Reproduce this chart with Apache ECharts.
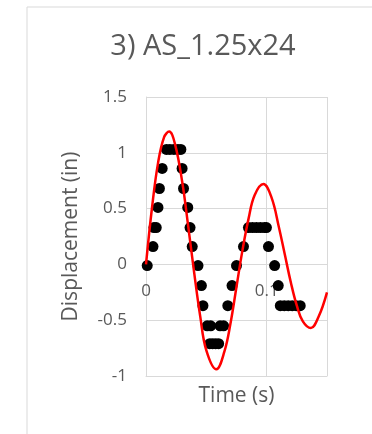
<!DOCTYPE html>
<html>
<head>
<meta charset="utf-8">
<script src="https://cdn.jsdelivr.net/npm/echarts@6/dist/echarts.min.js"></script>
<style>
html,body{margin:0;padding:0;background:#fff;}
#chart{width:372px;height:434px;}
</style>
</head>
<body>
<div id="chart"></div>
<script>
// Measured data (black dots): time (s) and displacement (in)
var dotTime = [0.001, 0.0058, 0.0066, 0.0085, 0.0099, 0.0111, 0.0134,
  0.0169, 0.0198, 0.0231, 0.0264, 0.0289, 0.0299, 0.0311, 0.0346, 0.0365, 0.0383,
  0.0431, 0.0459, 0.0472, 0.0507, 0.0536, 0.0528, 0.0552, 0.0577, 0.0602, 0.0614, 0.0643,
  0.0678, 0.0713, 0.0750, 0.0808, 0.0849, 0.0882, 0.0915, 0.0948, 0.0981, 0.0998, 0.1015,
  0.1066, 0.1096, 0.1113, 0.1146, 0.1179, 0.1212, 0.1245, 0.1278];
var dotDisp = [-0.01, 0.16, 0.33, 0.33, 0.51, 0.68, 0.86,
  1.03, 1.03, 1.03, 1.03, 1.03, 0.86, 0.68, 0.51, 0.33, 0.16,
  -0.01, -0.19, -0.37, -0.55, -0.55, -0.71, -0.71, -0.71, -0.71, -0.55, -0.55,
  -0.37, -0.19, -0.01, 0.16, 0.33, 0.33, 0.33, 0.33, 0.33, 0.33, 0.16,
  -0.01, -0.19, -0.37, -0.37, -0.37, -0.37, -0.37, -0.37];

// Model curve (red line)
var curveTime = [0, 0.005, 0.01, 0.015, 0.0192, 0.024, 0.03, 0.035, 0.04, 0.045, 0.05,
  0.0583, 0.065, 0.07, 0.075, 0.08, 0.085, 0.09, 0.0973, 0.104, 0.11, 0.115, 0.12,
  0.125, 0.13, 0.1366, 0.143, 0.15];
var curveDisp = [0, 0.51, 0.91, 1.14, 1.19, 1.08, 0.74, 0.34, -0.08, -0.47, -0.77,
  -0.94, -0.78, -0.53, -0.20, 0.13, 0.41, 0.62, 0.72, 0.60, 0.34, 0.09, -0.16,
  -0.37, -0.51, -0.57, -0.47, -0.25];

var yTicks = [-1, -0.5, 0, 0.5, 1, 1.5];
var xTicks = [0, 0.1];

var chart = echarts.init(document.getElementById('chart'), null, {renderer: 'canvas'});
var font = '"Open Sans", sans-serif';
var textColor = '#595959';
var gridColor = '#d9d9d9';

chart.setOption({
  animation: false,
  backgroundColor: '#ffffff',
  title: {
    text: '3) AS_1.25x24',
    left: 198,
    textAlign: 'center',
    top: 27,
    textStyle: {fontFamily: font, fontSize: 29, fontWeight: 'normal', color: textColor}
  },
  graphic: [{
    type: 'polyline',
    shape: {points: [[27, 440], [27, 7], [380, 7]]},
    style: {stroke: gridColor, lineWidth: 1, fill: null},
    silent: true
  }],
  grid: {left: 146, top: 97, right: 45, bottom: 58, containLabel: false, outerBoundsMode: 'none'},
  xAxis: {
    type: 'value',
    min: xTicks[0],
    max: 0.15,
    interval: xTicks[1] - xTicks[0],
    name: 'Time (s)',
    nameLocation: 'middle',
    nameGap: 10,
    nameTextStyle: {fontFamily: font, fontSize: 21, color: textColor},
    axisLine: {show: true, onZero: false, lineStyle: {color: gridColor, width: 1}},
    axisTick: {show: false},
    // labels sit next to the zero line, as in the reference
    axisLabel: {fontFamily: font, fontSize: 17, color: textColor, margin: -93, showMaxLabel: false},
    splitLine: {show: true, lineStyle: {color: gridColor, width: 1}}
  },
  yAxis: {
    type: 'value',
    min: yTicks[0],
    max: yTicks[yTicks.length - 1],
    interval: 0.5,
    name: 'Displacement (in)',
    nameLocation: 'middle',
    nameGap: 64,
    nameTextStyle: {fontFamily: font, fontSize: 21, color: textColor},
    axisLine: {show: true, onZero: false, lineStyle: {color: gridColor, width: 1}},
    axisTick: {show: false},
    axisLabel: {fontFamily: font, fontSize: 17, color: textColor, margin: 19},
    splitLine: {show: true, lineStyle: {color: gridColor, width: 1}}
  },
  series: [{
    type: 'scatter',
    data: dotTime.map(function (t, i) { return [t, dotDisp[i]]; }),
    symbol: 'circle',
    symbolSize: 11,
    itemStyle: {color: '#000000', opacity: 1},
    z: 2
  }, {
    type: 'line',
    data: curveTime.map(function (t, i) { return [t, curveDisp[i]]; }),
    smooth: 0.4,
    showSymbol: false,
    clip: true,
    lineStyle: {color: '#ff0000', width: 2.5},
    z: 3
  }]
});
</script>
</body>
</html>
